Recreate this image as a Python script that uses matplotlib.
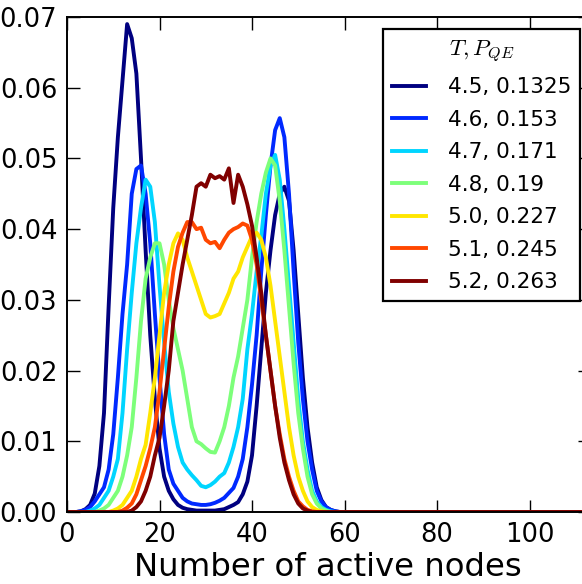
import numpy as np
import matplotlib
matplotlib.use("Agg")
import matplotlib.pyplot as plt

plt.rcParams['mathtext.fontset'] = 'cm'

# legend labels: T, P_QE
labels = ["4.5, 0.1325", "4.6, 0.153", "4.7, 0.171", "4.8, 0.19",
          "5.0, 0.227", "5.1, 0.245", "5.2, 0.263"]

# probability of n active nodes for n = 0..60, in units of 1e-3 (zero after that)
p45 = [0, 0, 0, 0.1, 0.4, 1.0, 2.6, 6.5, 14, 29, 43, 53, 61, 69, 67, 62, 50, 37, 25, 16,
       9, 5, 3, 1.8, 1.0, 0.6, 0.4, 0.3, 0.2, 0.2, 0.2, 0.2, 0.2, 0.3, 0.4, 0.7, 1.0, 1.4, 2.5, 4.3,
       8, 15, 23, 31, 37, 42, 45, 46, 44, 37, 28, 19, 12, 7, 3.5, 1.7, 0.7, 0.3, 0.1, 0, 0]
p46 = [0, 0, 0, 0.1, 0.3, 0.7, 1.5, 2.5, 3.5, 6, 11, 19, 28, 35, 45, 48.5, 49, 45, 38, 28,
       19, 11, 6, 4, 3, 2, 1.5, 1.2, 1.1, 1.0, 1.0, 1.1, 1.3, 1.6, 2.0, 2.7, 3.4, 5, 7.5, 12,
       18, 25, 34, 42, 49, 54, 55.7, 53, 45, 34, 24, 16, 10, 6, 3, 1.5, 0.7, 0.3, 0.1, 0, 0]
p47 = [0, 0, 0, 0, 0, 0.2, 0.5, 1, 2, 3, 5, 7.5, 14, 23, 31, 38, 43, 47, 46, 41,
       32, 24, 17, 12.5, 9.2, 7, 6, 5.2, 4.5, 3.7, 3.5, 3.8, 4.3, 5, 5.5, 7, 9.2, 12, 16, 23,
       28, 34, 39, 45, 49, 50.5, 47, 40, 32, 24, 16, 10, 6, 3, 1.5, 0.7, 0.3, 0.1, 0, 0, 0]
p48 = [0, 0, 0, 0, 0, 0, 0, 0.2, 0.5, 1, 2, 3, 5, 8, 12, 19, 27, 33, 36, 38,
       38, 35, 30, 26, 23, 20, 16, 12, 10, 9.6, 9, 8.5, 8.4, 10, 12, 15, 19, 22, 26, 30,
       36, 41, 45, 48, 50, 49, 44, 37, 29, 21, 14, 9, 5, 2.5, 1.2, 0.5, 0.2, 0, 0, 0, 0]
p50 = [0, 0, 0, 0, 0, 0, 0, 0, 0, 0, 0.2, 0.5, 1, 2, 3, 5, 7.5, 9.5, 14, 19,
       25, 31, 35, 38, 39.4, 38.5, 36, 34, 32, 30, 28, 27.5, 27.7, 28, 29.5, 31, 33, 34, 36, 37.5,
       39, 39.5, 38.5, 36, 32, 27, 22, 17, 12, 8, 5, 3, 1.5, 0.7, 0.3, 0.1, 0, 0, 0, 0, 0]
p51 = [0, 0, 0, 0, 0, 0, 0, 0, 0, 0, 0, 0, 0.2, 0.6, 1.2, 2.5, 4.5, 6.5, 9, 12,
       17, 23, 29, 34, 37.5, 39.5, 41, 41, 40, 40.2, 38.5, 38, 38.2, 37.3, 38.5, 39.5, 40, 40.3, 40.8, 40.5,
       38.5, 35, 30, 25, 20, 15, 11, 7.5, 5, 3, 1.5, 0.8, 0.3, 0.1, 0, 0, 0, 0, 0, 0, 0]
p52 = [0, 0, 0, 0, 0, 0, 0, 0, 0, 0, 0, 0, 0, 0, 0.2, 0.7, 1.5, 3, 5, 8,
       10.5, 15, 20, 27, 31, 35, 38.5, 42, 46, 46.5, 46, 47.7, 47.2, 47.5, 47, 48.6, 43.7, 47.7, 46, 43.5,
       40.5, 36, 31, 25, 20, 15, 10.5, 7, 4.5, 2.5, 1.2, 0.5, 0.2, 0, 0, 0, 0, 0, 0, 0, 0]

series = [p45, p46, p47, p48, p50, p51, p52]
colors = plt.cm.jet(np.linspace(0, 1, len(series)))

n_max = 128
nodes = np.arange(n_max)

fig = plt.figure(figsize=(5.82, 5.84), dpi=100)
ax = fig.add_axes([67 / 582, 72 / 584, 113 * 4.625 / 582, 495 / 584])

for vals, c, lab in zip(series, colors, labels):
    y = np.zeros(n_max)
    y[:len(vals)] = np.array(vals) * 1e-3
    ax.plot(nodes, y, color=c, lw=2.8, label=lab)

ax.set_xlim(0, 113)
ax.set_ylim(0, 0.07)
ax.set_xticks([0, 20, 40, 60, 80, 100])
ax.set_yticks(np.arange(0, 0.071, 0.01))
ax.set_yticklabels(["%.2f" % v for v in np.arange(0, 0.071, 0.01)])
ax.tick_params(direction='in', length=9, width=1, top=True, right=True,
               labelsize=18.5, pad=7)
for s in ax.spines.values():
    s.set_linewidth(1.4)
ax.set_xlabel("Number of active nodes", fontsize=23.3, labelpad=3)

leg = ax.legend(loc='upper right', bbox_to_anchor=(580 / 582, 1 - 29 / 584),
                bbox_transform=fig.transFigure, borderaxespad=0,
                fontsize=15.5, title="$T,P_{QE}$", title_fontsize=16.5,
                fancybox=False, framealpha=1, edgecolor='black',
                handlelength=1.6, handletextpad=1.0, labelspacing=0.58,
                borderpad=0.42)
leg.get_frame().set_linewidth(1.6)

fig.savefig("out.png", dpi=100)
